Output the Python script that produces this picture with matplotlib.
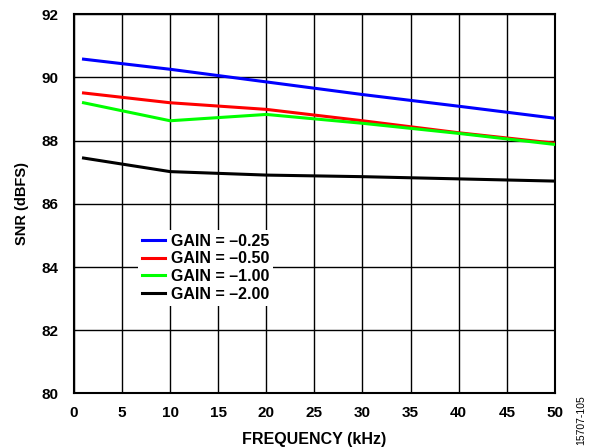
import matplotlib
matplotlib.use("Agg")
import matplotlib.pyplot as plt

plt.rcParams["font.family"] = ["Liberation Sans", "DejaVu Sans"]
plt.rcParams["font.weight"] = "bold"

freq_khz = [1, 10, 20, 30, 40, 50]
snr_gain_025 = [90.58, 90.26, 89.86, 89.46, 89.09, 88.71]
snr_gain_050 = [89.51, 89.20, 88.99, 88.63, 88.25, 87.92]
snr_gain_100 = [89.20, 88.63, 88.83, 88.55, 88.23, 87.88]
snr_gain_200 = [87.45, 87.02, 86.91, 86.86, 86.79, 86.72]

series = [
    ("GAIN = \u20130.25", snr_gain_025, "#0000ff"),
    ("GAIN = \u20130.50", snr_gain_050, "#ff0000"),
    ("GAIN = \u20131.00", snr_gain_100, "#00ff00"),
    ("GAIN = \u20132.00", snr_gain_200, "#000000"),
]

fig = plt.figure(figsize=(5.96, 4.47), dpi=100)
ax = fig.add_axes([0.124, 0.12, 0.807, 0.848])

for label, y, color in series:
    ax.plot(freq_khz, y, color=color, linewidth=2.2, label=label, zorder=3)

ax.set_xlim(0, 50)
ax.set_ylim(80, 92)
ax.set_xticks(range(0, 51, 5))
ax.set_yticks(range(80, 93, 2))
ax.tick_params(length=0, labelsize=11)
ax.tick_params(axis="y", pad=11)
ax.tick_params(axis="x", pad=9)
for lbl in ax.get_xticklabels() + ax.get_yticklabels():
    lbl.set_fontweight("bold")
ax.grid(True, color="black", linewidth=1.0)
ax.set_axisbelow(True)
for s in ax.spines.values():
    s.set_linewidth(1.5)

ax.set_xlabel("FREQUENCY (kHz)", fontsize=11.5, fontweight="bold", labelpad=9)
ax.set_ylabel("SNR (dBFS)", fontsize=10.5, fontweight="bold", labelpad=9)

leg = ax.legend(loc="upper left", bbox_to_anchor=(0.117, 0.453), frameon=True,
                fancybox=False, edgecolor="none", framealpha=1.0,
                handlelength=1.45, handletextpad=0.35, labelspacing=0.17,
                borderpad=0.25, prop={"size": 11.5, "weight": "bold"})
leg.set_zorder(5)

fig.text(0.976, 0.06, "15707-105", rotation=90, fontsize=7.5,
         fontweight="normal", ha="center", va="center")

fig.savefig("out.png", dpi=100)
